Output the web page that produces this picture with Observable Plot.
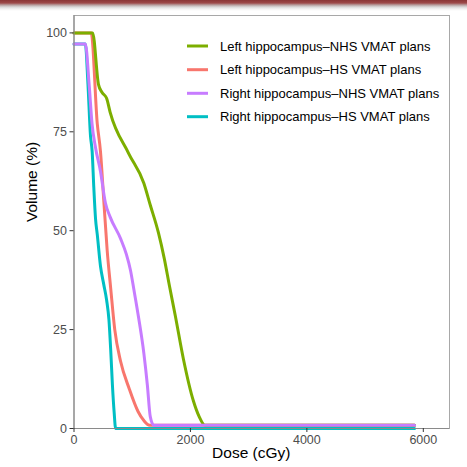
<!DOCTYPE html>
<html><head><meta charset="utf-8">
<script src="https://cdn.jsdelivr.net/npm/d3@7"></script>
<script src="https://cdn.jsdelivr.net/npm/@observablehq/plot@0.6"></script>
<style>
html,body{margin:0;padding:0;background:#fff;}
#wrap{position:relative;width:467px;height:467px;overflow:hidden;font-family:"Liberation Sans",Arial,Helvetica,sans-serif;}
#bar{position:absolute;left:0;top:0;width:467px;height:11px;background:linear-gradient(to bottom,#8a3636 0px,#9d4a4a 3px,#b8a0a0 5px,#d9d9d9 7px,#f3f3f3 9px,rgba(255,255,255,0) 11px);}
</style></head>
<body><div id="wrap"><div id="chart"></div><div id="bar"></div></div>
<script>
// Legend order (as shown) and colours
const legendNames = ["Left hippocampus–NHS VMAT plans","Left hippocampus–HS VMAT plans","Right hippocampus–NHS VMAT plans","Right hippocampus–HS VMAT plans"];
const legendColors = ["#7CAE00","#F8766D","#C77CFF","#00BFC4"];

const xTicks = [0,2000,4000,6000];
const yTicks = [0,25,50,75,100];

// Dose-volume histogram data (dose in cGy, volume in %)
const leftHSDose  = [0,295,400,455,510,570,630,700,800,950,1100,1200,1300,5850];
const leftHSVol   = [100,100,77,70,58,45,35.5,25,17,10,4.3,2,0.8,0.8];

const leftNHSDose = [0,320,420,480,560,620,940,1200,1310,1450,1550,1640,1740,1880,2050,2150,2250,5850];
const leftNHSVol  = [100,100,87,85,83.5,80,69.5,62,56.5,49.5,43,36,28.5,17.5,7,3,0.8,0.8];

const rightHSDose = [0,195,240,283,312,340,370,400,455,510,560,600,630,660,690,715,5850];
const rightHSVol  = [97.2,97.2,87,74,70,61,53,49,41,36.5,32.5,27.5,20,11,4,0,0];

const rightNHSDose = [0,195,260,310,370,455,540,620,800,900,970,1030,1110,1200,1260,1310,1370,5850];
const rightNHSVol  = [97.2,97.2,87,77,71,65,57,53.5,48,44,40,35,28,19,11,3,0.8,0.8];

// draw order: Left HS, Left NHS, Right HS, Right NHS
const drawSeries = [
  [legendNames[1], leftHSDose, leftHSVol],
  [legendNames[0], leftNHSDose, leftNHSVol],
  [legendNames[3], rightHSDose, rightHSVol],
  [legendNames[2], rightNHSDose, rightNHSVol]
];
const rows = [];
for (const [name, ds, vs] of drawSeries) ds.forEach((d,i)=>rows.push({series:name, dose:d, volume:vs[i]}));

const font = '"Liberation Sans",Arial,Helvetica,sans-serif';
const chart = Plot.plot({
  width:467, height:467,
  marginLeft:73.5, marginRight:18, marginTop:15, marginBottom:39,
  style:{fontFamily:font, background:"transparent", color:"#4d4d4d"},
  x:{domain:[0,6450], label:null},
  y:{domain:[0,104.4], label:null},
  color:{domain:legendNames, range:legendColors},
  marks:[
    Plot.frame({stroke:"#a8a8a8", strokeWidth:1}),
    Plot.line(rows,{x:"dose", y:"volume", z:"series", stroke:"series", strokeWidth:3, curve:"monotone-x"}),
    Plot.ruleX([0],{stroke:"#8a8a8a", strokeWidth:1.2}),
    Plot.ruleY([0],{stroke:"#8a8a8a", strokeWidth:1.2}),
    Plot.axisX({ticks:xTicks, tickFormat:d3.format("d"), tickSize:4, tickPadding:3, fontSize:12.5, stroke:"#333", label:null}),
    Plot.axisY({ticks:yTicks, tickFormat:d3.format("d"), tickSize:4, tickPadding:3, fontSize:12.5, stroke:"#333", label:null}),
    Plot.text(["Dose (cGy)"],{text:d=>d, frameAnchor:"bottom", dy:29.5, dx:-10.5, fontSize:15.5, fill:"#000"}),
    Plot.text(["Volume (%)"],{text:d=>d, frameAnchor:"left", rotate:-90, dx:-41.5, fontSize:15.5, fill:"#000"})
  ]
});
document.getElementById("chart").appendChild(chart);

// legend inside the panel
const svg = d3.select(chart);
const lg = svg.append("g").attr("font-family", font).attr("font-size", 13).attr("text-anchor","start");
const rowY = [46, 69.7, 93.3, 116.7];
legendNames.forEach((name,i)=>{
  lg.append("line").attr("x1",187).attr("x2",208).attr("y1",rowY[i]).attr("y2",rowY[i])
    .attr("stroke",legendColors[i]).attr("stroke-width",3);
  lg.append("text").attr("x",220).attr("y",rowY[i]).attr("dy","0.35em").attr("text-anchor","start").attr("fill","#000").text(name);
});
</script>
</body></html>
